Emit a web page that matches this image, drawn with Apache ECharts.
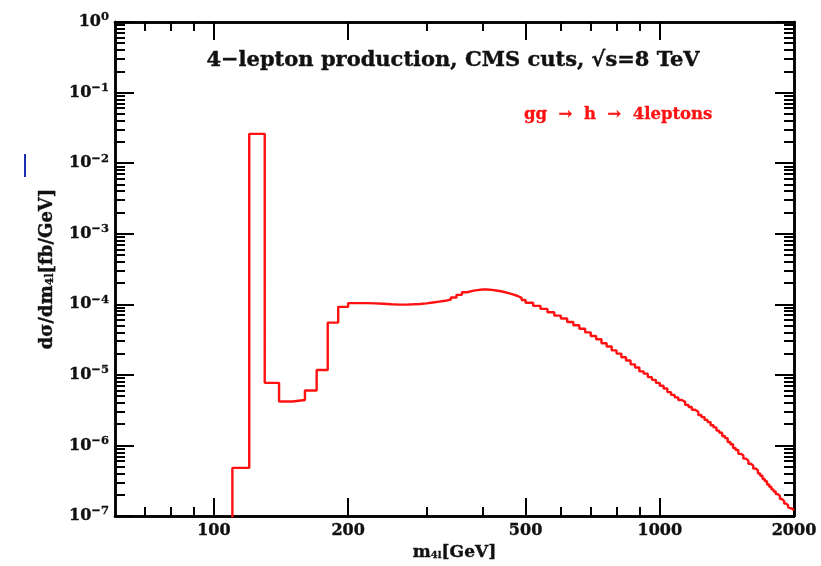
<!DOCTYPE html>
<html>
<head>
<meta charset="utf-8">
<title>4-lepton production</title>
<script src="https://cdn.jsdelivr.net/npm/echarts@6/dist/echarts.min.js"></script>
<style>
  html, body { margin: 0; padding: 0; background: #fff; }
  #chart { width: 821px; height: 566px; }
</style>
</head>
<body>
<div id="chart"></div>
<script>
  // bin edges of the m4l histogram [GeV]
  const massEdges = [
    110, 120, 130, 140, 150, 160, 170, 180, 190, 200,
    210, 220, 230, 240, 250, 260, 270, 280, 290, 300,
    310, 320, 330, 340, 350, 360, 370, 380, 390, 400,
    410, 420, 430, 440, 450, 460, 470, 480, 490, 500,
    520, 540, 560, 580, 600, 620, 640, 660, 680, 700,
    720, 740, 760, 780, 800, 820, 840, 860, 880, 900,
    920, 940, 960, 980, 1000, 1020, 1040, 1060, 1080, 1100,
    1120, 1140, 1160, 1180, 1200, 1220, 1240, 1260, 1280, 1300,
    1320, 1340, 1360, 1380, 1400, 1420, 1440, 1460, 1480, 1500,
    1520, 1540, 1560, 1580, 1600, 1620, 1640, 1660, 1680, 1700,
    1720, 1740, 1760, 1780, 1800, 1820, 1840, 1860, 1880, 1900,
    1920, 1940, 1960, 1980, 2000
  ]
  // dσ/dm4l in each bin [fb/GeV]
  const xsec = [
    4.8e-7, 2.6e-2, 7.7e-6, 4.2e-6, 4.4e-6, 6.0e-6, 1.17e-5, 5.5e-5, 9.2e-5, 1.04e-4,
    1.04e-4, 1.03e-4, 1.02e-4, 1.0e-4, 0.99e-4, 0.99e-4, 1.0e-4, 1.01e-4, 1.03e-4, 1.06e-4,
    1.09e-4, 1.12e-4, 1.17e-4, 1.25e-4, 1.36e-4, 1.48e-4, 1.55e-4, 1.59e-4, 1.62e-4, 1.62e-4,
    1.60e-4, 1.57e-4, 1.53e-4, 1.48e-4, 1.43e-4, 1.37e-4, 1.31e-4, 1.23e-4, 1.15e-4,
    1.05e-4, 9.5e-5, 8.6e-5, 7.7e-5, 6.9e-5, 6.3e-5, 5.6e-5, 5.05e-5, 4.5e-5, 4.0e-5,
    3.55e-5, 3.2e-5, 2.8e-5, 2.52e-5, 2.22e-5, 2.0e-5, 1.78e-5, 1.6e-5, 1.41e-5, 1.27e-5,
    1.12e-5, 1.04e-5, 9.3e-6, 8.5e-6, 7.7e-6, 7.0e-6, 6.4e-6, 5.7e-6, 5.2e-6, 4.8e-6,
    4.4e-6, 4.15e-6, 3.75e-6, 3.5e-6, 3.2e-6, 3.0e-6, 2.7e-6, 2.52e-6, 2.3e-6, 2.14e-6,
    1.93e-6, 1.8e-6, 1.62e-6, 1.51e-6, 1.36e-6, 1.27e-6, 1.12e-6, 1.04e-6, 9.2e-7, 8.6e-7,
    7.6e-7, 7.2e-7, 6.5e-7, 6.1e-7, 5.5e-7, 5.2e-7, 4.7e-7, 4.45e-7, 4.0e-7, 3.72e-7,
    3.35e-7, 3.12e-7, 2.8e-7, 2.6e-7, 2.38e-7, 2.22e-7, 2.04e-7, 1.92e-7, 1.74e-7, 1.64e-7,
    1.5e-7, 1.42e-7, 1.33e-7, 1.27e-7, 1.2e-7
  ]
  const xMajorTicks = [100, 200, 500, 1000, 2000]
  const xMinorTicks = [70, 80, 90, 300, 400, 600, 700, 800, 900]
  const yDecades = [1e-7, 1e-6, 1e-5, 1e-4, 1e-3, 1e-2, 1e-1, 1]
  const seriesName = 'gg  →  h  →  4leptons'
  const titleText = '4−lepton production, CMS cuts, √s=8 TeV'

  const FONT = 'DejaVu Serif'
  const RED = '#ff1111'

  // minor y ticks: 2..9 inside every decade
  let yMinorTicks = []
  yDecades.slice(0, -1).forEach(d => {
    for (let k = 2; k <= 9; k++) yMinorTicks.push(d * k)
  })

  // histogram as step line (closing point at the last upper edge)
  let points = [[massEdges[0], 1e-9]]
  xsec.forEach((v, i) => points.push([massEdges[i], v]))
  points.push([massEdges[massEdges.length - 1], xsec[xsec.length - 1]])

  const lineStyle = { color: '#000', width: 2.5 }
  const labelFont = {
    fontFamily: FONT, fontWeight: 'bold', fontSize: 16, color: '#111',
    textBorderColor: '#111', textBorderWidth: 0.4
  }
  const subStyle = size => ({
    fontFamily: FONT, fontWeight: 'bold', fontSize: size, color: '#111',
    textBorderColor: '#111', textBorderWidth: 0.3
  })

  function makeX (position, ticks, len, withLabels) {
    return {
      type: 'log', position: position, min: 60, max: 2000, logBase: 10,
      axisLine: { show: true, lineStyle: lineStyle },
      axisTick: { show: true, inside: true, length: len, customValues: ticks, lineStyle: { color: '#000', width: 2 } },
      axisLabel: withLabels ? Object.assign({
        show: true, margin: 7, customValues: ticks,
        formatter: v => String(Math.round(v))
      }, labelFont) : { show: false },
      splitLine: { show: false },
      minorTick: { show: false }
    }
  }
  function makeY (position, ticks, len, withLabels) {
    return {
      type: 'log', position: position, min: 1e-7, max: 1, logBase: 10,
      axisLine: { show: true, lineStyle: lineStyle },
      axisTick: { show: true, inside: true, length: len, customValues: ticks, lineStyle: { color: '#000', width: 2 } },
      axisLabel: withLabels ? Object.assign({
        show: true, margin: 6, customValues: ticks,
        formatter: v => '10{e|' + String(Math.round(Math.log10(v))).replace('-', '−') + '}',
        rich: { e: Object.assign({ padding: [0, 0, 9, 0] }, subStyle(11.5)) }
      }, labelFont) : { show: false },
      splitLine: { show: false },
      minorTick: { show: false }
    }
  }

  let xMain = makeX('bottom', xMajorTicks, 18, true)
  xMain.name = 'm{s|4l}[GeV]'
  xMain.nameLocation = 'middle'
  xMain.nameGap = 28
  xMain.nameTextStyle = Object.assign({
    rich: { s: Object.assign({ padding: [6, 0, 0, 0] }, subStyle(10)) }
  }, labelFont, { fontSize: 17 })

  let yMain = makeY('left', yDecades, 19, true)
  yMain.name = 'dσ/dm{s|4l}[fb/GeV]'
  yMain.nameLocation = 'middle'
  yMain.nameGap = 59
  yMain.nameTextStyle = Object.assign({
    rich: { s: Object.assign({ padding: [6, 0, 0, 0] }, subStyle(11)) }
  }, labelFont, { fontSize: 18 })

  let chart = echarts.init(document.getElementById('chart'), null, { renderer: 'canvas' })
  chart.setOption({
    animation: false,
    backgroundColor: '#fff',
    title: {
      text: titleText,
      left: 448, top: 45, textAlign: 'center',
      textStyle: {
        fontFamily: FONT, fontWeight: 'bold', fontSize: 21, color: '#111',
        textBorderColor: '#111', textBorderWidth: 0.4
      }
    },
    legend: {
      data: [{ name: seriesName, icon: 'none' }],
      left: 514, top: 101, itemWidth: 0, itemGap: 0,
      selectedMode: false,
      textStyle: {
        fontFamily: FONT, fontWeight: 'bold', fontSize: 16.5, color: RED,
        textBorderColor: RED, textBorderWidth: 0.3
      }
    },
    grid: { left: 115, top: 22, right: 27, bottom: 50, outerBoundsMode: 'none' },
    xAxis: [
      xMain,
      makeX('bottom', xMinorTicks, 9, false),
      makeX('top', xMajorTicks, 18, false),
      makeX('top', xMinorTicks, 9, false)
    ],
    yAxis: [
      yMain,
      makeY('left', yMinorTicks, 10, false),
      makeY('right', yDecades, 19, false),
      makeY('right', yMinorTicks, 10, false)
    ],
    series: [{
      name: seriesName,
      type: 'line',
      xAxisIndex: 0,
      yAxisIndex: 0,
      step: 'end',
      showSymbol: false,
      symbol: 'none',
      data: points,
      lineStyle: { color: RED, width: 2.4 },
      itemStyle: { color: RED }
    }],
    graphic: [{
      // small blue mark left of the axis title in the original
      type: 'rect',
      shape: { x: 24, y: 154, width: 2, height: 23 },
      style: { fill: '#1c2fb0' }
    }]
  })
</script>
</body>
</html>
